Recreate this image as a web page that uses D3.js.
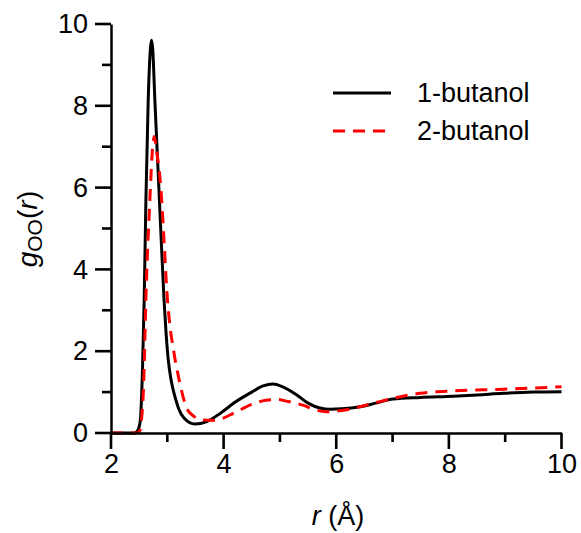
<!DOCTYPE html>
<html>
<head>
<meta charset="utf-8">
<script src="https://cdnjs.cloudflare.com/ajax/libs/d3/7.8.5/d3.min.js"></script>
<style>
  body { margin: 0; background: #fff; }
  text { font-family: "Liberation Sans", Arial, sans-serif; }
</style>
</head>
<body>
<div id="chart"></div>
<script>
// g_OO(r)
var r1 = [2.0, 2.42, 2.47, 2.52, 2.56, 2.59, 2.62, 2.66, 2.70, 2.72, 2.74, 2.78, 2.86, 2.94, 2.98, 3.02, 3.06, 3.1, 3.15, 3.2, 3.3, 3.49, 3.7, 3.94, 4.2, 4.5, 4.7, 4.88, 5.05, 5.3, 5.5, 5.71, 5.89, 6.1, 6.42, 6.7, 7.01, 7.49, 8.08, 8.5, 8.97, 9.5, 10.0]
var g1 = [0, 0, 0.05, 0.3, 1.6, 3.3, 5.7, 8.1, 9.4, 9.6, 9.4, 8.1, 5.7, 3.3, 2.4, 1.75, 1.35, 1.08, 0.82, 0.6, 0.36, 0.22, 0.28, 0.48, 0.75, 1.0, 1.15, 1.2, 1.13, 0.93, 0.73, 0.61, 0.58, 0.59, 0.64, 0.73, 0.83, 0.87, 0.9, 0.93, 0.97, 1.0, 1.01]

var r2 = [2.0, 2.47, 2.51, 2.54, 2.58, 2.62, 2.69, 2.74, 2.77, 2.80, 2.90, 2.95, 2.99, 3.04, 3.11, 3.21, 3.34, 3.46, 3.63, 3.8, 3.94, 4.2, 4.5, 4.75, 4.94, 5.15, 5.41, 5.6, 5.83, 6.1, 6.42, 6.75, 7.08, 7.49, 8.08, 8.97, 9.5, 10.0]
var g2 = [0, 0, 0.05, 0.3, 1.2, 3.3, 5.7, 7.0, 7.25, 7.0, 5.7, 4.5, 3.5, 2.7, 2.03, 1.3, 0.62, 0.42, 0.32, 0.31, 0.34, 0.5, 0.7, 0.8, 0.82, 0.77, 0.68, 0.58, 0.52, 0.55, 0.64, 0.76, 0.87, 0.97, 1.03, 1.07, 1.1, 1.13]

var seriesNames = ["1-butanol", "2-butanol"]
var xTicks = [2, 4, 6, 8, 10]
var xMinorTicks = [3, 5, 7, 9]
var yTicks = [0, 2, 4, 6, 8, 10]
var yMinorTicks = [1, 3, 5, 7, 9]

var width = 581, height = 533

var x = d3.scaleLinear().domain([2, 10]).range([111, 561.5])
var y = d3.scaleLinear().domain([0, 10]).range([433, 24])

var svg = d3.select("#chart").append("svg")
  .attr("width", width)
  .attr("height", height)

var line = d3.line()
  .x(d => x(d[0]))
  .y(d => y(d[1]))
  .curve(d3.curveMonotoneX)

var data1 = r1.map((r, i) => [r, g1[i]])
var data2 = r2.map((r, i) => [r, g2[i]])

svg.append("path")
  .datum(data1)
  .attr("fill", "none")
  .attr("stroke", "#000")
  .attr("stroke-width", 3)
  .attr("d", line)

svg.append("path")
  .datum(data2)
  .attr("fill", "none")
  .attr("stroke", "#ff0000")
  .attr("stroke-width", 3)
  .attr("stroke-dasharray", "12,8")
  .attr("d", line)

// axis lines + labels from d3 axes
function styleAxis(g) {
  g.selectAll("path").attr("stroke", "#000").attr("stroke-width", 2.5)
  g.selectAll("line").remove()
  g.selectAll("text").attr("font-size", 27).attr("fill", "#000")
    .style("font-family", "'Liberation Sans', Arial, sans-serif")
}

var xAxis = svg.append("g")
  .attr("transform", `translate(0,${y(0)})`)
  .call(d3.axisBottom(x).tickValues(xTicks).tickSize(15).tickSizeOuter(0).tickPadding(6))
styleAxis(xAxis)

var yAxis = svg.append("g")
  .attr("transform", `translate(${x(2)},0)`)
  .call(d3.axisLeft(y).tickValues(yTicks).tickSize(16).tickSizeOuter(0).tickPadding(7))
styleAxis(yAxis)

// tick marks as small filled rects
var tw = 2.6
var ticks = svg.append("g")
function xTickMarks(vals, len) {
  ticks.selectAll(null).data(vals).join("rect")
    .attr("x", d => x(d) - tw / 2)
    .attr("y", y(0))
    .attr("width", tw)
    .attr("height", len)
    .attr("fill", "#000")
}
function yTickMarks(vals, len) {
  ticks.selectAll(null).data(vals).join("rect")
    .attr("x", x(2) - len)
    .attr("y", d => y(d) - tw / 2)
    .attr("width", len)
    .attr("height", tw)
    .attr("fill", "#000")
}
xTickMarks(xTicks, 16)
xTickMarks(xMinorTicks, 9)
yTickMarks(yTicks, 16)
yTickMarks(yMinorTicks, 9)

// axis titles
var xt = svg.append("text")
  .attr("x", 338)
  .attr("y", 525)
  .attr("text-anchor", "middle")
  .attr("font-size", 27)
xt.append("tspan").attr("font-style", "italic").text("r")
xt.append("tspan").text(" (Å)")

// y title pieces, laid along the rotated axis (bottom to top)
var yParts = [
  {t: "g", size: 28, italic: true, w: 15.6, shift: 0},
  {t: "OO", size: 21, italic: false, w: 32.7, shift: 5},
  {t: "(", size: 28, italic: false, w: 9.3, shift: 0},
  {t: "r", size: 28, italic: true, w: 9.8, shift: 0},
  {t: ")", size: 28, italic: false, w: 9.3, shift: 0}
]
var total = d3.sum(yParts, d => d.w)
var pos = 229 + total / 2
yParts.forEach(d => {
  svg.append("text")
    .attr("transform", `translate(${37 + d.shift},${pos}) rotate(-90)`)
    .attr("font-size", d.size)
    .attr("font-style", d.italic ? "italic" : "normal")
    .text(d.t)
  pos -= d.w
})

// legend
var legend = svg.append("g")
seriesNames.forEach((name, i) => {
  var ly = 93 + i * 38
  legend.append("line")
    .attr("x1", 333).attr("x2", 391)
    .attr("y1", ly).attr("y2", ly)
    .attr("stroke", i == 0 ? "#000" : "#ff0000")
    .attr("stroke-width", 3)
    .attr("stroke-dasharray", i == 0 ? null : "12,8")
  legend.append("text")
    .attr("x", 417)
    .attr("y", ly + 9)
    .attr("font-size", 27)
    .text(name)
})
</script>
</body>
</html>
